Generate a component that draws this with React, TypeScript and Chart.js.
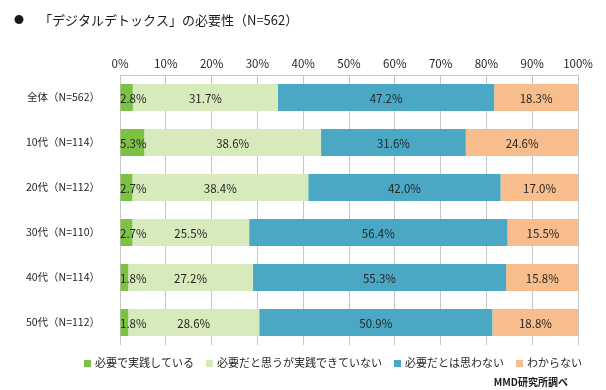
import React, { useEffect, useRef } from "react";
import { Chart, registerables } from "chart.js";

Chart.register(...registerables);

const categories = ["全体（N=562）", "10代（N=114）", "20代（N=112）", "30代（N=110）", "40代（N=114）", "50代（N=112）"];
const seriesNames = ["必要で実践している", "必要だと思うが実践できていない", "必要だとは思わない", "わからない"];
const practicing = [2.8, 5.3, 2.7, 2.7, 1.8, 1.8];
const needButNot = [31.7, 38.6, 38.4, 25.5, 27.2, 28.6];
const notNeeded = [47.2, 31.6, 42.0, 56.4, 55.3, 50.9];
const unknown = [18.3, 24.6, 17.0, 15.5, 15.8, 18.8];
const colors = ["#7cc144", "#d7eabc", "#4aa8c4", "#f8bd8c"];
const titleText = "「デジタルデトックス」の必要性（N=562）";
const sourceText = "MMD研究所調べ";

const FONT = "'Noto Sans CJK JP', 'Noto Sans', sans-serif";

const segLabels = {
  id: "segLabels",
  afterDatasetsDraw(chart: any) {
    const ctx = chart.ctx;
    const area = chart.chartArea;
    ctx.save();
    ctx.font = `11.5px ${FONT}`;
    ctx.fillStyle = "#262626";
    ctx.textBaseline = "middle";
    ctx.textAlign = "center";
    chart.data.datasets.forEach((ds: any, i: number) => {
      const meta = chart.getDatasetMeta(i);
      meta.data.forEach((bar: any, j: number) => {
        const p = bar.getProps(["x", "y", "base"], true);
        const text = Number(ds.data[j]).toFixed(1) + "%";
        const w = ctx.measureText(text).width;
        let cx = (p.x + p.base) / 2;
        cx = Math.max(cx, area.left + w / 2);
        ctx.fillText(text, cx, p.y + 1);
      });
    });
    ctx.restore();
  },
};

const decorations = {
  id: "decorations",
  afterDraw(chart: any) {
    const ctx = chart.ctx;
    ctx.save();
    // title
    ctx.fillStyle = "#1a1a1a";
    ctx.textBaseline = "middle";
    ctx.textAlign = "left";
    ctx.font = `10px ${FONT}`;
    ctx.fillText("●", 14, 20);
    ctx.font = `13px ${FONT}`;
    ctx.fillText(titleText, 39, 20);
    // legend
    ctx.font = `11px ${FONT}`;
    let x = 84;
    const y = 363;
    chart.data.datasets.forEach((ds: any) => {
      ctx.fillStyle = ds.backgroundColor;
      ctx.fillRect(x, y - 3, 7, 7);
      ctx.fillStyle = "#262626";
      ctx.fillText(ds.label, x + 11, y);
      x += 11 + ctx.measureText(ds.label).width + 12;
    });
    // source
    ctx.font = `bold 10px ${FONT}`;
    ctx.fillStyle = "#1a1a1a";
    ctx.textAlign = "right";
    ctx.fillText(sourceText, 568, 382);
    ctx.restore();
  },
};

export default function App() {
  const ref = useRef<HTMLCanvasElement>(null);
  useEffect(() => {
    if (!ref.current) return;
    const values = [practicing, needButNot, notNeeded, unknown];
    const chart = new Chart(ref.current, {
      type: "bar",
      data: {
        labels: categories,
        datasets: seriesNames.map((name, i) => ({
          label: name,
          data: values[i],
          backgroundColor: colors[i],
          borderWidth: 0,
          categoryPercentage: 0.6,
          barPercentage: 1,
        })),
      },
      options: {
        indexAxis: "y",
        responsive: false,
        animation: false,
        layout: { padding: { top: 45, left: 0, right: 28, bottom: 45 } },
        plugins: {
          legend: { display: false },
          title: { display: false },
          tooltip: { enabled: false },
        },
        scales: {
          x: {
            position: "top",
            stacked: true,
            min: 0,
            max: 100,
            ticks: {
              stepSize: 10,
              padding: 4,
              color: "#262626",
              font: { family: FONT, size: 11.5 },
              callback: (v: any) => v + "%",
            },
            grid: { color: "#c6c6c6", drawTicks: false },
            border: { color: "#c6c6c6" },
            afterFit: (s: any) => {
              s.height = 30;
            },
          },
          y: {
            stacked: true,
            ticks: {
              padding: 20,
              color: "#262626",
              font: { family: FONT, size: 10.5 },
            },
            grid: { display: false, drawTicks: false },
            border: { display: false },
            afterFit: (s: any) => {
              s.width = 120;
            },
          },
        },
      },
      plugins: [segLabels, decorations],
    });
    return () => chart.destroy();
  }, []);
  return (
    <div style={{ position: "absolute", left: 0, top: 0, width: 606, height: 390, background: "#fff" }}>
      <canvas ref={ref} width={606} height={390} />
    </div>
  );
}
